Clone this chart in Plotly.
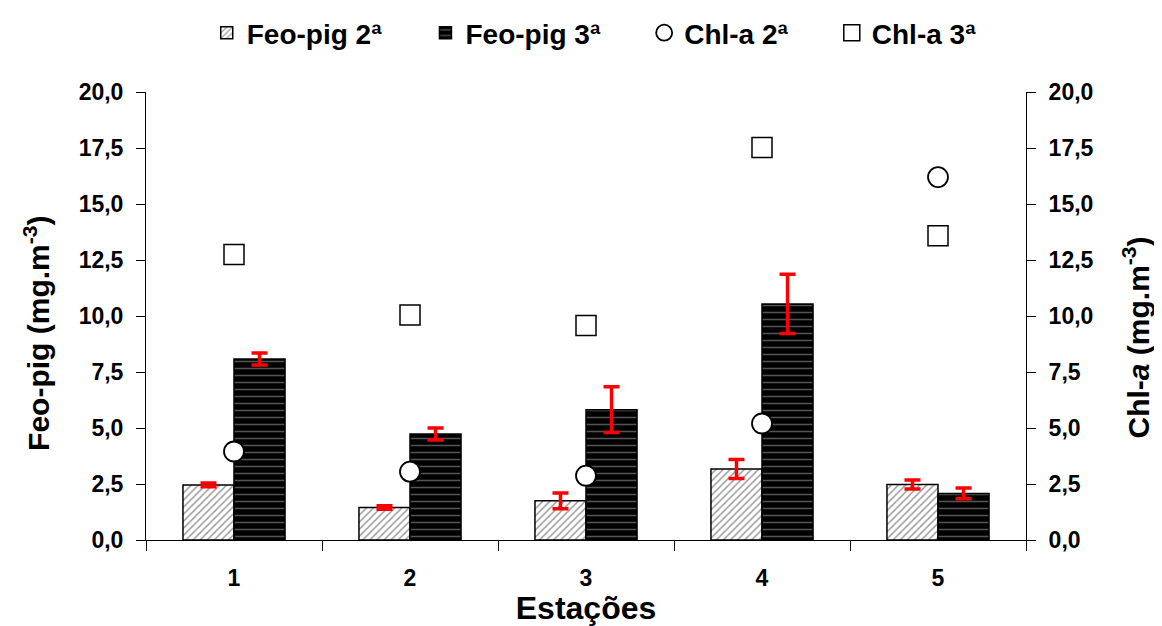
import plotly.graph_objects as go

estacoes = ["1", "2", "3", "4", "5"]
feo_2 = [2.46, 1.45, 1.75, 3.17, 2.48]
feo_2_err = [0.08, 0.08, 0.35, 0.42, 0.2]
feo_3 = [8.08, 4.73, 5.82, 10.54, 2.08]
feo_3_err = [0.27, 0.27, 1.02, 1.32, 0.24]
chl_2 = [3.95, 3.05, 2.87, 5.2, 16.2]
chl_3 = [12.75, 10.05, 9.58, 17.52, 13.58]
y_ticks = [0, 2.5, 5, 7.5, 10, 12.5, 15, 17.5, 20]
y_tick_text = ["0,0", "2,5", "5,0", "7,5", "10,0", "12,5", "15,0", "17,5", "20,0"]

FONT = "Arial, Liberation Sans, sans-serif"
TICKFONT = dict(family=FONT, size=23, color="black", weight="bold")
TITLEFONT = dict(family=FONT, size=32, color="black")
YTITLEFONT = dict(family=FONT, size=30, color="black")
PAD = "\u00a0" * 5

fig = go.Figure()
fig.add_trace(go.Bar(
    x=estacoes, y=feo_2, name="<b>Feo-pig 2ª</b>" + PAD,
    marker=dict(color="white", line=dict(color="black", width=1.5),
                pattern=dict(shape="/", fgcolor="#3a3a3a", bgcolor="white", size=5, solidity=0.3)),
    error_y=dict(type="data", array=feo_2_err, color="red", thickness=3.5, width=8),
))
fig.add_trace(go.Bar(
    x=estacoes, y=feo_3, name="<b>Feo-pig 3ª</b>" + PAD,
    marker=dict(color="black", line=dict(color="black", width=1.5),
                pattern=dict(shape="-", fgcolor="#a8a8a8", bgcolor="black", size=7, solidity=0.22)),
    error_y=dict(type="data", array=feo_3_err, color="red", thickness=3.5, width=8),
))
fig.add_trace(go.Scatter(
    x=estacoes, y=chl_2, name="<b>Chl-a 2ª</b>" + PAD, mode="markers", yaxis="y2",
    marker=dict(symbol="circle", size=20, color="white", line=dict(color="black", width=1.8)),
))
fig.add_trace(go.Scatter(
    x=estacoes, y=chl_3, name="<b>Chl-a 3ª</b>", mode="markers", yaxis="y2",
    marker=dict(symbol="square", size=20, color="white", line=dict(color="black", width=1.5)),
))

axis_common = dict(
    range=[0, 20], tickvals=y_ticks, ticktext=y_tick_text,
    showgrid=False, zeroline=False, showline=True, linecolor="black", linewidth=1,
    ticks="outside", ticklen=9, tickcolor="black", ticklabelstandoff=8,
    tickfont=TICKFONT,
)

fig.update_layout(
    width=1154, height=618,
    paper_bgcolor="white", plot_bgcolor="white",
    margin=dict(l=138, r=136, t=84, b=86),
    barmode="group", bargap=0.42, bargroupgap=0,
    font=dict(family=FONT, color="black"),
    xaxis=dict(
        showgrid=False, showline=True, linecolor="black", linewidth=1,
        ticks="outside", tickson="boundaries", ticklen=10, tickcolor="black",
        ticklabelstandoff=17, tickfont=TICKFONT,
        title=dict(text="<b>Estações</b>", font=TITLEFONT, standoff=2),
    ),
    yaxis=dict(**axis_common),
    yaxis2=dict(**axis_common, overlaying="y", side="right"),
    annotations=[
        dict(text="<b>Feo-pig (mg.m<sup>-3</sup>)</b>", textangle=-90, font=YTITLEFONT,
             xref="paper", yref="paper", x=-0.124, y=0.462, xanchor="center", yanchor="middle",
             showarrow=False),
        dict(text="<b>Chl-<i>a</i> (mg.m<sup>-3</sup>)</b>", textangle=-90, font=YTITLEFONT,
             xref="paper", yref="paper", x=1.125, y=0.452, xanchor="center", yanchor="middle",
             showarrow=False),
    ],
    legend=dict(
        orientation="h", xref="container", yref="container", x=0.508, xanchor="center", y=1.0, yanchor="top",
        font=dict(family=FONT, size=28, color="black"), itemwidth=30, traceorder="normal",
    ),
)

fig.write_html("out.html")
